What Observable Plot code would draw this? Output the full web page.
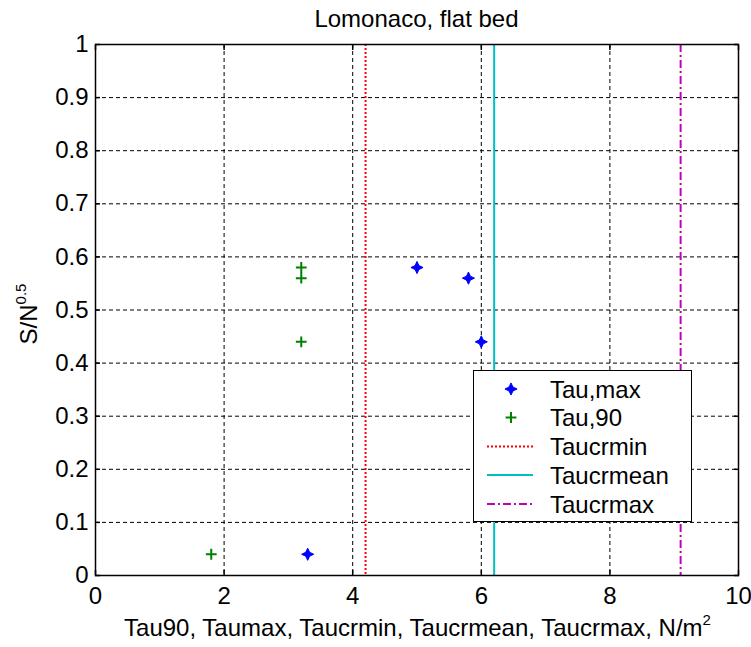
<!DOCTYPE html>
<html><head><meta charset="utf-8">
<script src="https://cdn.jsdelivr.net/npm/d3@7"></script>
<script src="https://cdn.jsdelivr.net/npm/@observablehq/plot@0.6"></script>
<style>body{margin:0;background:#fff}</style>
</head><body><div id="chart"></div>
<script>
// ---- data ----
const titleText = "Lomonaco, flat bed";
const xTicks = [0, 2, 4, 6, 8, 10];
const yTicks = [0, 0.1, 0.2, 0.3, 0.4, 0.5, 0.6, 0.7, 0.8, 0.9, 1];
const tauMaxX = [5.0, 5.8, 6.0, 3.3];
const tauMaxY = [0.58, 0.56, 0.44, 0.04];
const tau90X = [3.2, 3.2, 3.2, 1.8];
const tau90Y = [0.58, 0.56, 0.44, 0.04];
const taucrminX = [4.2];
const taucrmeanX = [6.2];
const taucrmaxX = [9.1];
const legendLabels = ["Tau,max", "Tau,90", "Taucrmin", "Taucrmean", "Taucrmax"];

const FONT = "Liberation Sans, Arial, sans-serif";
const FS = 24;
const colBlue = "#0000ff", colGreen = "#008000", colRed = "#ff0000", colCyan = "#00bfbf", colMag = "#bf00bf";

const tauMax = tauMaxX.map((x, i) => ({x, y: tauMaxY[i]}));
const tau90 = tau90X.map((x, i) => ({x, y: tau90Y[i]}));

const star4 = {
  draw(ctx, size) {
    const r = Math.sqrt(size / Math.PI) * 1.35, w = r * 0.32;
    ctx.moveTo(0, -r); ctx.lineTo(w, -w); ctx.lineTo(r, 0); ctx.lineTo(w, w);
    ctx.lineTo(0, r); ctx.lineTo(-w, w); ctx.lineTo(-r, 0); ctx.lineTo(-w, -w); ctx.closePath();
  }
};
const plusSym = {
  draw(ctx, size) {
    const a = Math.sqrt(size / Math.PI) * 1.2;
    ctx.moveTo(-a, 0); ctx.lineTo(a, 0); ctx.moveTo(0, -a); ctx.lineTo(0, a);
  }
};

const innerX = xTicks.filter(d => d > 0 && d < 10);
const innerY = yTicks.filter(d => d > 0 && d < 1);

const chart = Plot.plot({
  width: 751, height: 647,
  marginLeft: 95, marginRight: 13, marginTop: 44, marginBottom: 72,
  style: {fontFamily: FONT, fontSize: FS + "px", background: "#fff", color: "#000"},
  x: {domain: [0, 10], label: null},
  y: {domain: [0, 1], label: null},
  marks: [
    Plot.ruleX(innerX, {stroke: "#000", strokeDasharray: "4,3", strokeWidth: 1}),
    Plot.ruleY(innerY, {stroke: "#000", strokeDasharray: "4,3", strokeWidth: 1}),
    Plot.axisX({ticks: xTicks, anchor: "bottom", tickSize: 0, tickPadding: 11, tickFormat: d => String(d), fontSize: FS}),
    Plot.axisY({ticks: yTicks, anchor: "left", tickSize: 0, tickPadding: 7, tickFormat: d => String(+d.toFixed(1)), fontSize: FS}),
    Plot.axisX({ticks: xTicks, anchor: "bottom", tickSize: -5, text: null, strokeWidth: 1.5}),
    Plot.axisX({ticks: xTicks, anchor: "top", tickSize: -5, text: null, strokeWidth: 1.5}),
    Plot.axisY({ticks: yTicks, anchor: "left", tickSize: -5, text: null, strokeWidth: 1.5}),
    Plot.axisY({ticks: yTicks, anchor: "right", tickSize: -5, text: null, strokeWidth: 1.5}),
    Plot.ruleX(taucrminX, {stroke: colRed, strokeWidth: 2, strokeDasharray: "2,2"}),
    Plot.ruleX(taucrmeanX, {stroke: colCyan, strokeWidth: 2}),
    Plot.ruleX(taucrmaxX, {stroke: colMag, strokeWidth: 2, strokeDasharray: "8,3,2,3"}),
    Plot.dot(tau90, {x: "x", y: "y", symbol: plusSym, r: 4.5, stroke: colGreen, strokeWidth: 2, fill: "none"}),
    Plot.dot(tauMax, {x: "x", y: "y", symbol: star4, r: 4.5, fill: colBlue, stroke: colBlue, strokeWidth: 1}),
    Plot.frame({stroke: "#000", strokeWidth: 1.5})
  ]
});
document.getElementById("chart").appendChild(chart);

const svg = d3.select(chart);
const xs = chart.scale("x");
const cx = (xs.range[0] + xs.range[1]) / 2;

svg.append("text").attr("x", cx).attr("y", 27).attr("text-anchor", "middle")
  .attr("font-family", FONT).attr("font-size", FS).attr("fill", "#000").text(titleText);

const xl = svg.append("text").attr("x", cx + 1).attr("y", 636).attr("text-anchor", "middle")
  .attr("font-family", FONT).attr("font-size", FS).attr("fill", "#000");
xl.append("tspan").text("Tau90, Taumax, Taucrmin, Taucrmean, Taucrmax, N/m");
xl.append("tspan").attr("dy", -11).attr("font-size", 15).text("2");

const yl = svg.append("text").attr("transform", "translate(37,314) rotate(-90)").attr("text-anchor", "middle")
  .attr("font-family", FONT).attr("font-size", FS).attr("fill", "#000");
yl.append("tspan").text("S/N");
yl.append("tspan").attr("dy", -11).attr("font-size", 15).text("0.5");

// legend
const lg = svg.append("g").attr("text-anchor", "start");
lg.append("rect").attr("x", 473.5).attr("y", 370.5).attr("width", 218).attr("height", 151)
  .attr("fill", "#fff").attr("stroke", "#000").attr("stroke-width", 1);
const rowY = [389, 417.5, 446.5, 475, 504];
const mx = 511, lx1 = 487, lx2 = 533, tx = 550;
const starPath = d3.symbol(star4, 4.5 * 4.5 * Math.PI)();
const plusPath = d3.symbol(plusSym, 4.5 * 4.5 * Math.PI)();
lg.append("path").attr("d", starPath).attr("transform", `translate(${mx},${rowY[0]})`).attr("fill", colBlue).attr("stroke", colBlue);
lg.append("path").attr("d", plusPath).attr("transform", `translate(${mx},${rowY[1]})`).attr("fill", "none").attr("stroke", colGreen).attr("stroke-width", 2);
lg.append("line").attr("x1", lx1).attr("x2", lx2).attr("y1", rowY[2]).attr("y2", rowY[2]).attr("stroke", colRed).attr("stroke-width", 2).attr("stroke-dasharray", "2,2");
lg.append("line").attr("x1", lx1).attr("x2", lx2).attr("y1", rowY[3]).attr("y2", rowY[3]).attr("stroke", colCyan).attr("stroke-width", 2);
lg.append("line").attr("x1", lx1).attr("x2", lx2).attr("y1", rowY[4]).attr("y2", rowY[4]).attr("stroke", colMag).attr("stroke-width", 2).attr("stroke-dasharray", "8,3,2,3");
legendLabels.forEach((t, i) => {
  lg.append("text").attr("x", tx).attr("y", rowY[i]).attr("dy", "0.36em").attr("text-anchor", "start")
    .attr("font-family", FONT).attr("font-size", FS).attr("fill", "#000").text(t);
});
</script>
</body></html>
